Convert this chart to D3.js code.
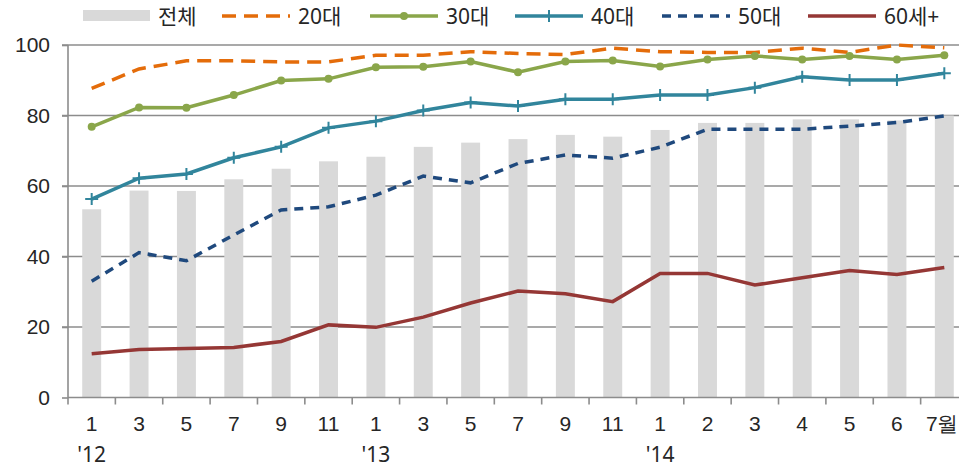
<!DOCTYPE html>
<html>
<head>
<meta charset="utf-8">
<script src="https://cdn.jsdelivr.net/npm/d3@7"></script>
<style>
  body { margin: 0; background: #fff; }
  svg { display: block; font-family: "Noto Sans", "Noto Sans CJK KR", sans-serif; }
  .tick text { fill: #262626; font-size: 21px; }
</style>
</head>
<body>
<svg id="chart" width="959" height="469"></svg>
<script>
// month labels and year marks
var months = ["1","3","5","7","9","11","1","3","5","7","9","11","1","2","3","4","5","6","7월"];
var years = {0: "'12", 6: "'13", 12: "'14"};
var yTicks = [0, 20, 40, 60, 80, 100];

// 전체 (bars)
var total = [53.4,58.7,58.6,61.9,64.9,67.0,68.3,71.1,72.3,73.3,74.5,74.0,75.9,77.9,77.9,78.9,78.9,78.6,80.0];
var age20 = [87.7,93.2,95.5,95.5,95.2,95.2,97.1,97.1,98.1,97.6,97.3,99.1,98.1,97.9,97.9,99.1,97.9,100,99.2];
var age30 = [76.8,82.3,82.2,85.8,89.9,90.4,93.7,93.8,95.3,92.3,95.3,95.6,93.9,95.9,96.9,95.9,96.9,95.9,97.1];
var age40 = [56.3,62.2,63.4,68.0,71.1,76.5,78.4,81.4,83.7,82.7,84.6,84.6,85.8,85.8,87.9,91.0,90.1,90.1,92.0];
var age50 = [33.0,41.1,38.8,46.1,53.2,54.1,57.4,62.8,60.9,66.4,68.8,67.9,71.0,76.1,76.1,76.1,77.0,78.0,79.9];
var age60 = [12.4,13.6,13.9,14.2,15.9,20.6,19.9,22.8,26.8,30.2,29.4,27.2,35.2,35.2,31.9,34.0,36.0,34.9,36.9];

var series = [
  {name: "20대", data: age20, color: "#e46c0a", dash: "14,8", marker: null},
  {name: "30대", data: age30, color: "#8aa64a", dash: null, marker: "circle"},
  {name: "40대", data: age40, color: "#31859c", dash: null, marker: "plus"},
  {name: "50대", data: age50, color: "#1f497d", dash: "9,7", marker: null},
  {name: "60세+", data: age60, color: "#953735", dash: null, marker: null}
];

function drawChart() {
  var svg = d3.select("#chart");
  var mLeft = 68, mRight = 968, mTop = 45, mBottom = 397.5;
  var idx = d3.range(months.length);

  var x = d3.scaleBand().domain(idx).range([mLeft, mRight]);
  var y = d3.scaleLinear().domain([0, 100]).range([mBottom, mTop]);
  var cx = function (i) { return x(i) + x.bandwidth() / 2; };

  // gridlines
  svg.append("g")
    .selectAll("line").data(yTicks.slice(1)).enter().append("line")
    .attr("x1", mLeft - 6).attr("x2", 959)
    .attr("y1", function (d) { return y(d); })
    .attr("y2", function (d) { return y(d); })
    .attr("stroke", "#8c8c8c").attr("stroke-width", 1.6);

  // bars
  svg.append("g")
    .selectAll("rect").data(total).enter().append("rect")
    .attr("x", function (d, i) { return x(i) + x.bandwidth() * 0.3; })
    .attr("width", x.bandwidth() * 0.4)
    .attr("y", function (d) { return y(d); })
    .attr("height", function (d) { return mBottom - y(d); })
    .attr("fill", "#d9d9d9");

  // y axis
  var yAxis = svg.append("g")
    .attr("transform", "translate(" + mLeft + ",0)")
    .call(d3.axisLeft(y).tickValues(yTicks).tickSize(6).tickPadding(12));
  yAxis.selectAll("line, path").attr("stroke", "#8c8c8c").attr("stroke-width", 1.6);
  yAxis.select(".domain").attr("d", "M0," + mTop + "V" + mBottom);

  // x axis
  var xAxis = svg.append("g")
    .attr("transform", "translate(0," + mBottom + ")")
    .call(d3.axisBottom(x).tickFormat(function (i) { return months[i]; }).tickSize(0).tickPadding(19));
  xAxis.select(".domain").attr("d", "M" + mLeft + ",0H959").attr("stroke", "#8c8c8c").attr("stroke-width", 1.6);
  xAxis.selectAll(".tick").filter(function (i) { return i === months.length - 1; })
    .select("text").attr("dx", "-3px").style("letter-spacing", "-1px");

  // tick marks between bands
  svg.append("g")
    .selectAll("line").data(idx).enter().append("line")
    .attr("x1", function (i) { return x(i); })
    .attr("x2", function (i) { return x(i); })
    .attr("y1", mBottom).attr("y2", mBottom + 7)
    .attr("stroke", "#8c8c8c").attr("stroke-width", 1.6);

  // year labels
  svg.append("g")
    .selectAll("text").data(Object.keys(years)).enter().append("text")
    .attr("x", function (k) { return cx(+k); })
    .attr("y", 462)
    .attr("text-anchor", "middle")
    .attr("font-size", 21).attr("fill", "#262626")
    .text(function (k) { return years[k]; });

  // lines
  var line = d3.line()
    .x(function (d, i) { return cx(i); })
    .y(function (d) { return y(d); });

  series.forEach(function (s) {
    svg.append("path")
      .datum(s.data)
      .attr("d", line)
      .attr("fill", "none")
      .attr("stroke", s.color)
      .attr("stroke-width", 3.5)
      .attr("stroke-dasharray", s.dash);

    if (s.marker === "circle") {
      svg.append("g").selectAll("circle").data(s.data).enter().append("circle")
        .attr("cx", function (d, i) { return cx(i); })
        .attr("cy", function (d) { return y(d); })
        .attr("r", 4).attr("fill", s.color);
    } else if (s.marker === "plus") {
      svg.append("g").selectAll("path").data(s.data).enter().append("path")
        .attr("d", function (d, i) {
          var px = cx(i), py = y(d);
          return "M" + (px - 6.5) + "," + py + "H" + (px + 6.5) + "M" + px + "," + (py - 6) + "V" + (py + 6);
        })
        .attr("stroke", s.color).attr("stroke-width", 2);
    }
  });

  // legend
  var legend = svg.append("g").attr("font-size", 21).attr("fill", "#262626");
  var ly = 16;
  legend.append("rect").attr("x", 83).attr("y", ly - 6).attr("width", 67).attr("height", 11).attr("fill", "#d9d9d9");
  legend.append("text").attr("x", 158).attr("y", ly).attr("dy", "0.36em").text("전체");

  var legendX = [222, 370, 515, 662, 808];
  series.forEach(function (s, k) {
    var lx = legendX[k];
    legend.append("line")
      .attr("x1", lx).attr("x2", lx + 68).attr("y1", ly).attr("y2", ly)
      .attr("stroke", s.color).attr("stroke-width", 3.5)
      .attr("stroke-dasharray", s.dash);
    if (s.marker === "circle") {
      legend.append("circle").attr("cx", lx + 34).attr("cy", ly).attr("r", 4).attr("fill", s.color);
    } else if (s.marker === "plus") {
      legend.append("path")
        .attr("d", "M" + (lx + 34) + "," + (ly - 6) + "V" + (ly + 6))
        .attr("stroke", s.color).attr("stroke-width", 2);
    }
    legend.append("text").attr("x", lx + 76).attr("y", ly).attr("dy", "0.36em").text(s.name);
  });
}

drawChart();
</script>
</body>
</html>
